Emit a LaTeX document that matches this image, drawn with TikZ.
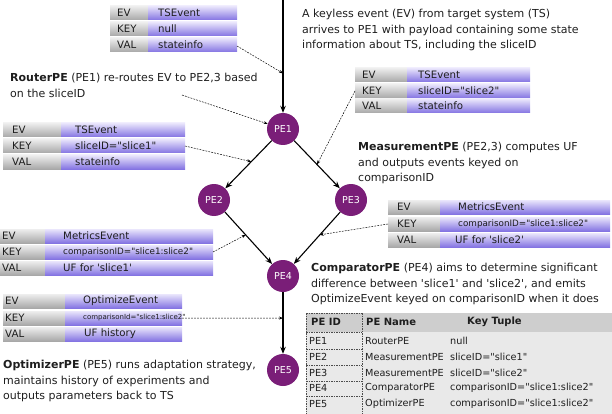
\documentclass[tikz,border=0pt]{standalone}
\usepackage{fontspec}
\setmainfont{DejaVu Sans}[Ligatures=TeXOff]
\usetikzlibrary{arrows.meta}
\definecolor{pecol}{RGB}{122,30,120}
\definecolor{labtop}{RGB}{238,238,238}
\definecolor{labbot}{RGB}{168,168,168}
\definecolor{valtop}{RGB}{234,230,252}
\definecolor{valbot}{RGB}{132,116,226}
\definecolor{tabbg}{RGB}{233,233,233}
\definecolor{tabhead}{RGB}{206,206,206}
\definecolor{txtcol}{RGB}{30,30,30}
\tikzset{
 pe/.style={circle, fill=pecol, draw=none, minimum size=32pt, inner sep=0pt, text=white, font=\fontsize{9.5}{11}\selectfont},
 arr/.style={line width=1.1pt, -{Stealth[length=7pt,width=5.5pt]}},
 dsh/.style={line width=0.5pt, dash pattern=on 1.8pt off 1.2pt, -{Stealth[length=4pt,width=3pt]}},
 celltxt/.style={anchor=west, inner sep=0pt, text=txtcol, font=\fontsize{10.2}{12}\selectfont},
 smalltxt/.style={anchor=west, inner sep=0pt, text=txtcol, font=\fontsize{8.8}{10}\selectfont},
 tinytxt/.style={anchor=west, inner sep=0pt, text=txtcol, font=\fontsize{7}{8}\selectfont},
 note/.style={anchor=north west, inner sep=0pt, align=left, text=txtcol, font=\fontsize{11}{15.5}\selectfont},
 tabtxt/.style={anchor=west, inner sep=0pt, text=txtcol, font=\fontsize{9.7}{12}\selectfont},
 tabhd/.style={anchor=west, inner sep=0pt, text=txtcol, font=\fontsize{10}{12}\selectfont\bfseries},
 tabdash/.style={line width=0.5pt, dash pattern=on 1.5pt off 1pt, black!70},
}
\newcommand\evrow[4]{%
  \shade[top color=labtop, bottom color=labbot] (#1,#4) rectangle (#2,#4+14);
  \shade[top color=valtop, bottom color=valbot] (#2,#4) rectangle (#3,#4+14);}
\begin{document}
\begin{tikzpicture}[x=1pt,y=-1pt]
\useasboundingbox (0,0) rectangle (612,414);
% ---------- bottom table
\fill[tabbg] (306,313) rectangle (612,414);
\fill[tabhead] (306,313) rectangle (612,332);
\draw[tabdash] (306,313) -- (306,414);
\draw[tabdash] (362,313) -- (362,414);
\foreach \yy in {313,332,349,365,381,396} \draw[tabdash] (306,\yy) -- (362,\yy);
\node[tabhd] (hid) at (311,322) {PE ID};
\node[tabhd] (hname) at (366,322) {PE Name};
\node[tabhd] (hkey) at (467,322) {Key Tuple};
\node[tabtxt] (r1a) at (309,341) {PE1};
\node[tabtxt] (r1b) at (365,341) {RouterPE};
\node[tabtxt] (r1c) at (450,341) {null};
\node[tabtxt] (r2a) at (309,357) {PE2};
\node[tabtxt] (r2b) at (365,357) {MeasurementPE};
\node[tabtxt] (r2c) at (450,357) {sliceID="slice1"};
\node[tabtxt] (r3a) at (309,373) {PE3};
\node[tabtxt] (r3b) at (365,373) {MeasurementPE};
\node[tabtxt] (r3c) at (450,373) {sliceID="slice2"};
\node[tabtxt] (r4a) at (309,388) {PE4};
\node[tabtxt] (r4b) at (365,388) {ComparatorPE};
\node[tabtxt] (r4c) at (450,388) {comparisonID="slice1:slice2"};
\node[tabtxt] (r5a) at (309,404) {PE5};
\node[tabtxt] (r5b) at (365,404) {OptimizerPE};
\node[tabtxt] (r5c) at (450,404) {comparisonID="slice1:slice2"};
% ---------- event tables
\evrow{110}{148}{237}{6}\evrow{110}{148}{237}{22}\evrow{110}{148}{237}{38}
\node[celltxt] (t1a) at (117,13) {EV};
\node[celltxt] (t1b) at (117,29) {KEY};
\node[celltxt] (t1c) at (117,45) {VAL};
\node[celltxt] (t1d) at (158,13) {TSEvent};
\node[celltxt] (t1e) at (158,29) {null};
\node[celltxt] (t1f) at (158,45) {stateinfo};
\coordinate (t1out) at (237,46);
\evrow{355}{407}{530}{68}\evrow{355}{407}{530}{84}\evrow{355}{407}{530}{99}
\node[celltxt] (t2a) at (362,75) {EV};
\node[celltxt] (t2b) at (362,91) {KEY};
\node[celltxt] (t2c) at (362,106) {VAL};
\node[celltxt] (t2d) at (418,75) {TSEvent};
\node[celltxt] (t2e) at (418,91) {sliceID="slice2"};
\node[celltxt] (t2f) at (418,106) {stateinfo};
\coordinate (t2out) at (355,91);
\evrow{3}{61}{185}{123}\evrow{3}{61}{185}{139}\evrow{3}{61}{185}{155}
\node[celltxt] (t3a) at (12,130) {EV};
\node[celltxt] (t3b) at (12,146) {KEY};
\node[celltxt] (t3c) at (12,162) {VAL};
\node[celltxt] (t3d) at (75,130) {TSEvent};
\node[celltxt] (t3e) at (75,146) {sliceID="slice1"};
\node[celltxt] (t3f) at (75,162) {stateinfo};
\coordinate (t3out) at (185,146);
\evrow{0}{45}{213}{229}\evrow{0}{45}{213}{245}\evrow{0}{45}{213}{261}
\node[celltxt] (t4a) at (2,236) {EV};
\node[celltxt] (t4b) at (2,252) {KEY};
\node[celltxt] (t4c) at (2,268) {VAL};
\node[celltxt] (t4d) at (63,236) {MetricsEvent};
\node[smalltxt] (t4e) at (63,252) {comparisonID="slice1:slice2"};
\node[celltxt] (t4f) at (63,268) {UF for 'slice1'};
\coordinate (t4out) at (213,252);
\evrow{388}{440}{610}{200}\evrow{388}{440}{610}{217}\evrow{388}{440}{610}{233}
\node[celltxt] (t5a) at (397,207) {EV};
\node[celltxt] (t5b) at (397,224) {KEY};
\node[celltxt] (t5c) at (397,240) {VAL};
\node[celltxt] (t5d) at (458,207) {MetricsEvent};
\node[smalltxt] (t5e) at (458,224) {comparisonID="slice1:slice2"};
\node[celltxt] (t5f) at (455,240) {UF for 'slice2'};
\coordinate (t5out) at (388,224);
\evrow{3}{65}{182}{294}\evrow{3}{65}{182}{311}\evrow{3}{65}{182}{327}
\node[celltxt] (t6a) at (5,301) {EV};
\node[celltxt] (t6b) at (5,318) {KEY};
\node[celltxt] (t6c) at (5,334) {VAL};
\node[celltxt] (t6d) at (83,301) {OptimizeEvent};
\node[tinytxt] (t6e) at (83,318) {comparisonId="slice1:slice2"};
\node[celltxt] (t6f) at (84,334) {UF history};
\coordinate (t6out) at (182,318);
% ---------- notes
\node[note] (n1) at (302,9) {A keyless event (EV) from target system (TS)\\arrives to PE1 with payload containing some state\\information about TS, including the sliceID};
\node[note] (n2) at (10,73) {\textbf{RouterPE} (PE1) re-routes EV to PE2,3 based\\on the sliceID};
\coordinate (n2out) at (182,95);
\node[note] (n3) at (358,142) {\textbf{MeasurementPE} (PE2,3) computes UF\\and outputs events keyed on\\comparisonID};
\node[note] (n4) at (311,263) {\textbf{ComparatorPE} (PE4) aims to determine significant\\difference between 'slice1' and 'slice2', and emits\\OptimizeEvent keyed on comparisonID when it does};
\node[note] (n5) at (3,360) {\textbf{OptimizerPE} (PE5) runs adaptation strategy,\\maintains history of experiments and\\outputs parameters back to TS};
% ---------- PEs
\node[pe] (pe1) at (283,129) {PE1};
\node[pe] (pe2) at (214,200) {PE2};
\node[pe] (pe3) at (351,200) {PE3};
\node[pe] (pe4) at (283,276) {PE4};
\node[pe] (pe5) at (283,370) {PE5};
\coordinate (src) at (283,0);
\draw[arr] (src) -- coordinate[pos=0.65] (m01) (pe1);
\draw[arr] (pe1) -- coordinate[pos=0.44] (m12) (pe2);
\draw[arr] (pe1) -- coordinate[pos=0.5] (m13) (pe3);
\draw[arr] (pe2) -- coordinate[pos=0.44] (m24) (pe4);
\draw[arr] (pe3) -- coordinate[pos=0.44] (m34) (pe4);
\draw[arr] (pe4) -- coordinate[pos=0.42] (m45) (pe5);
% ---------- dashed pointers
\draw[dsh] (t1out) -- (m01);
\draw[dsh] (n2out) -- (pe1);
\draw[dsh] (t2out) -- (m13);
\draw[dsh] (t3out) -- (m12);
\draw[dsh] (t4out) -- (m24);
\draw[dsh] (t5out) -- (m34);
\draw[dsh] (t6out) -- (m45);
\end{tikzpicture}
\end{document}
